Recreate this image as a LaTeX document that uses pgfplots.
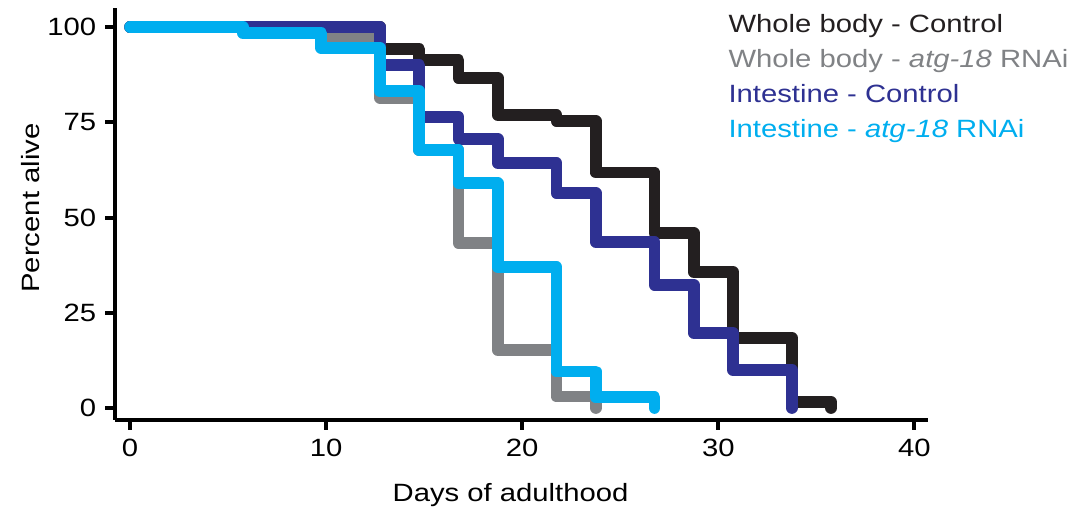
\documentclass[border=0pt]{standalone}
\usepackage{fontspec}
\setmainfont{Liberation Sans}[FakeStretch=1.17]
\usepackage{pgfplots}
\pgfplotsset{compat=1.18}
\definecolor{wbctl}{HTML}{231F20}
\definecolor{wbrnai}{HTML}{808285}
\definecolor{inctl}{HTML}{2E3192}
\definecolor{inrnai}{HTML}{00AEEF}
\begin{document}
\begin{tikzpicture}
\begin{axis}[
  scale only axis, width=325.2pt, height=164.8pt,
  xmin=-0.77, xmax=40.7, ymin=-3.15, ymax=105,
  axis x line*=bottom, axis y line*=left,
  axis line style={line width=1.6pt,-},
  xtick={0,10,20,30,40}, ytick={0,25,50,75,100},
  tick align=outside, major tick length=4pt,
  tick style={line width=1.6pt,black},
  every tick label/.append style={font=\fontsize{10}{12}\selectfont},
  /pgf/number format/assume math mode=true,
  xlabel={Days of adulthood}, ylabel={Percent alive},
  label style={font=\fontsize{10}{12}\selectfont},
  xlabel style={xshift=-4.4pt, yshift=-4pt},
  ylabel style={yshift=-4pt, xshift=2.4pt},
  clip=false,
  every axis plot/.append style={line width=4.7pt, line cap=round, line join=round, const plot},
]
% Whole body - Control
\addplot[wbctl] coordinates {
 (0,100) (12.75,94.2) (14.75,91.3) (16.75,86.6) (18.75,76.9) (21.75,75.3)
 (23.75,61.8) (26.75,45.9) (28.75,35.7) (30.75,18.4) (33.75,1.6) (35.75,0)};
% Whole body - atg-18 RNAi
\addplot[wbrnai] coordinates {
 (0,100) (9.75,97) (12.75,81.4) (14.75,67.7) (16.75,43.3) (18.75,15.2)
 (21.75,3) (23.75,0)};
% Intestine - Control
\addplot[inctl] coordinates {
 (0,100) (12.75,90) (14.75,76.4) (16.75,70.6) (18.75,64.3) (21.75,56.4)
 (23.75,43.6) (26.75,32.3) (28.75,19.7) (30.75,10) (33.75,0)};
% Intestine - atg-18 RNAi
\addplot[inrnai] coordinates {
 (0,100) (5.75,98.4) (9.75,94.5) (12.75,83.2) (14.75,67.7) (16.75,59)
 (18.75,37) (21.75,9.6) (23.75,2.8) (26.75,0)};
\node[anchor=north west, inner sep=0pt, align=left,
  font=\fontsize{10}{13.9}\selectfont] at (rel axis cs:0.754,0.985)
  {\textcolor{wbctl}{Whole body - Control}\\
   \textcolor{wbrnai}{Whole body - \textit{atg-18} RNAi}\\
   \textcolor{inctl}{Intestine - Control}\\
   \textcolor{inrnai}{Intestine - \textit{atg-18} RNAi}};
\coordinate (bbA) at (rel axis cs:-0.1415,-0.2184);
\coordinate (bbB) at (rel axis cs:1.1857,1.0194);
\end{axis}
\path (bbA) rectangle (bbB);
\end{tikzpicture}
\end{document}
